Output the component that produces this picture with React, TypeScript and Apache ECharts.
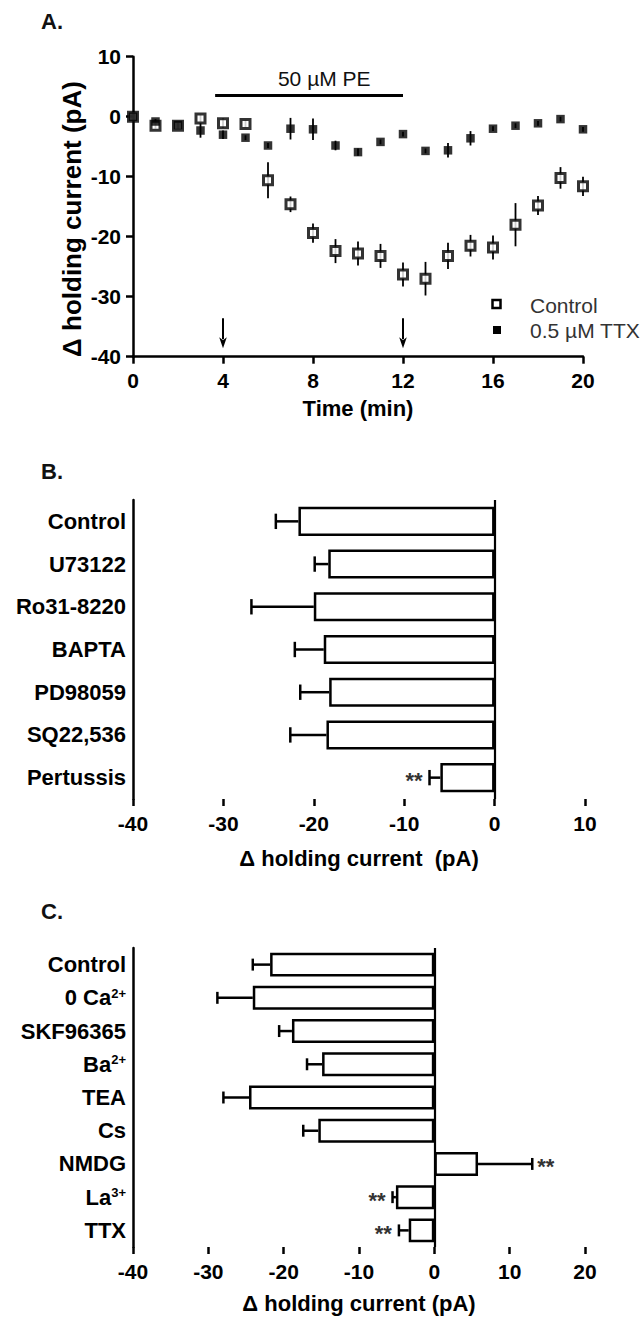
import React, { useEffect, useRef } from "react";
import * as echarts from "echarts";

// ---------- Panel A: time course ----------
const timeMin = [0, 1, 2, 3, 4, 5, 6, 7, 8, 9, 10, 11, 12, 13, 14, 15, 16, 17, 18, 19, 20];
const controlMean = [0, -1.5, -1.5, -0.3, -1.1, -1.2, -10.6, -14.6, -19.4, -22.4, -22.8, -23.2, -26.3, -27.0, -23.2, -21.5, -21.8, -18.0, -14.8, -10.2, -11.6];
const controlSem = [0, 0.5, 0.5, 0.6, 0.8, 0.6, 3.0, 1.3, 1.6, 2.0, 2.0, 2.0, 2.0, 2.8, 2.2, 1.8, 2.0, 3.6, 1.6, 1.8, 1.6];
const ttxMean = [0, -0.8, -1.4, -2.3, -3.0, -3.5, -4.8, -2.0, -2.1, -4.8, -5.9, -4.2, -2.9, -5.7, -5.6, -3.6, -2.0, -1.5, -1.1, -0.4, -2.1];
const ttxSem = [0, 0.4, 0.4, 1.2, 0.7, 0.4, 0.4, 1.8, 1.8, 0.8, 0.6, 0.4, 0.4, 0.4, 1.2, 1.2, 0.4, 0.4, 0.4, 0.4, 0.4];
const peBar = [3.65, 12]; // application window (min)
const arrowTimes = [4, 12];
const arrowFrom = -33.6;
const arrowTo = -38.6;

// ---------- Panel B ----------
const catsB = ["Control", "U73122", "Ro31-8220", "BAPTA", "PD98059", "SQ22,536", "Pertussis"];
const meansB = [-21.7, -18.4, -20.0, -18.9, -18.3, -18.6, -6.0];
const errsB = [2.5, 1.5, 6.9, 3.2, 3.2, 4.0, 1.2];
const sigB = ["", "", "", "", "", "", "**"];

// ---------- Panel C ----------
const catsC = ["Control", "0 Ca{sup|2+}", "SKF96365", "Ba{sup|2+}", "TEA", "Cs", "NMDG", "La{sup|3+}", "TTX"];
const meansC = [-21.8, -24.1, -18.9, -14.9, -24.6, -15.4, 5.8, -5.1, -3.4];
const errsC = [2.3, 4.7, 1.7, 2.0, 3.4, 2.0, 7.2, 0.45, 1.3];
const sigC = ["", "", "", "", "", "", "**", "**", "**"];

const FONT = "'Liberation Sans', Arial, Helvetica, sans-serif";
const BLACK = "#000";

const axisLineStyle = { onZero: false, lineStyle: { color: BLACK, width: 2.5 } };
const tickStyle = { show: true, length: 7, lineStyle: { color: BLACK, width: 2.5 } };
const tickLabel = { color: BLACK, fontSize: 21, fontWeight: "bold" as const, fontFamily: FONT };

function barErrRender(sig: string[]) {
  return (params: any, api: any) => {
    const i = api.value(2);
    const a = api.coord([api.value(0), i]);
    const b = api.coord([api.value(1), i]);
    const band = api.size([0, 1])[1];
    const h = band * 0.36;
    const children: any[] = [
      { type: "line", shape: { x1: a[0], y1: a[1], x2: b[0], y2: b[1] }, style: { stroke: BLACK, lineWidth: 2.5 } },
      { type: "line", shape: { x1: b[0], y1: b[1] - h / 2, x2: b[0], y2: b[1] + h / 2 }, style: { stroke: BLACK, lineWidth: 2.5 } },
    ];
    const s = sig[params.dataIndex];
    if (s) {
      const right = api.value(1) > api.value(0);
      children.push({
        type: "text",
        x: b[0] + (right ? 5 : -7),
        y: b[1] + 3,
        style: {
          text: s,
          fill: "#333",
          fontSize: 22,
          fontWeight: "bold",
          fontFamily: FONT,
          align: right ? "left" : "right",
          verticalAlign: "middle",
        },
      });
    }
    return { type: "group", children };
  };
}

function vErrRender(params: any, api: any) {
  const t = api.value(0);
  const p1 = api.coord([t, api.value(1)]);
  const p2 = api.coord([t, api.value(2)]);
  return {
    type: "line",
    shape: { x1: p1[0], y1: p1[1], x2: p2[0], y2: p2[1] },
    style: { stroke: BLACK, lineWidth: 1.8 },
  };
}

function arrowRender(params: any, api: any) {
  const t = api.value(0);
  const p1 = api.coord([t, api.value(1)]);
  const p2 = api.coord([t, api.value(2)]);
  const hw = 3.8;
  const hl = 11;
  return {
    type: "group",
    children: [
      { type: "line", shape: { x1: p1[0], y1: p1[1], x2: p2[0], y2: p2[1] - hl + 2 }, style: { stroke: BLACK, lineWidth: 2 } },
      {
        type: "polygon",
        shape: { points: [[p2[0], p2[1]], [p2[0] - hw, p2[1] - hl], [p2[0], p2[1] - hl + 3], [p2[0] + hw, p2[1] - hl]] },
        style: { fill: BLACK },
      },
    ],
  };
}

function buildOption() {
  const catAxisLabel = {
    color: BLACK,
    fontSize: 22,
    fontWeight: "bold" as const,
    fontFamily: FONT,
    margin: 7,
    rich: {
      sup: { fontSize: 13, fontWeight: "bold", fontFamily: FONT, color: BLACK, verticalAlign: "top", lineHeight: 12 },
    },
  };
  const nameStyle = { color: BLACK, fontSize: 22, fontWeight: "bold" as const, fontFamily: FONT };

  return {
    animation: false,
    backgroundColor: "#fff",
    textStyle: { fontFamily: FONT },
    grid: [
      { left: 133, top: 56.7, width: 450, height: 300 },
      { left: 133, top: 500, width: 452, height: 299 },
      { left: 133, top: 948, width: 452, height: 299 },
    ],
    xAxis: [
      {
        type: "value", gridIndex: 0, min: 0, max: 20, interval: 4,
        axisLine: axisLineStyle, axisTick: tickStyle, splitLine: { show: false },
        axisLabel: { ...tickLabel, margin: 13 },
        name: "Time (min)", nameLocation: "middle", nameGap: 41, nameTextStyle: nameStyle,
      },
      {
        type: "value", gridIndex: 1, min: -40, max: 10, interval: 10,
        axisLine: axisLineStyle, axisTick: tickStyle, splitLine: { show: false },
        axisLabel: { ...tickLabel, margin: 14 },
        name: "Δ holding current  (pA)", nameLocation: "middle", nameGap: 48, nameTextStyle: nameStyle,
      },
      {
        type: "value", gridIndex: 2, min: -40, max: 20, interval: 10,
        axisLine: axisLineStyle, axisTick: tickStyle, splitLine: { show: false },
        axisLabel: { ...tickLabel, margin: 14 },
        name: "Δ holding current (pA)", nameLocation: "middle", nameGap: 45, nameTextStyle: nameStyle,
      },
    ],
    yAxis: [
      {
        type: "value", gridIndex: 0, min: -40, max: 10, interval: 10,
        axisLine: axisLineStyle, axisTick: tickStyle, splitLine: { show: false },
        axisLabel: { ...tickLabel, margin: 12 },
      },
      {
        type: "category", gridIndex: 1, data: catsB, inverse: true,
        axisLine: axisLineStyle, axisTick: { show: false }, splitLine: { show: false },
        axisLabel: catAxisLabel,
      },
      {
        type: "category", gridIndex: 2, data: catsC, inverse: true,
        axisLine: axisLineStyle, axisTick: { show: false }, splitLine: { show: false },
        axisLabel: catAxisLabel,
      },
    ],
    graphic: [
      { type: "text", left: 41, top: 10, style: { text: "A.", fontSize: 22, fontWeight: "bold", fontFamily: FONT, fill: "#111" } },
      { type: "text", left: 41, top: 460, style: { text: "B.", fontSize: 22, fontWeight: "bold", fontFamily: FONT, fill: "#111" } },
      { type: "text", left: 41, top: 900, style: { text: "C.", fontSize: 22, fontWeight: "bold", fontFamily: FONT, fill: "#111" } },
      {
        type: "text", x: 72, y: 219, rotation: Math.PI / 2,
        style: { text: "Δ holding current (pA)", fontSize: 26, fontWeight: "bold", fontFamily: FONT, fill: BLACK, align: "center", verticalAlign: "middle" },
      },
      { type: "rect", shape: { x: 492.5, y: 300, width: 8, height: 8 }, style: { fill: "#fff", stroke: BLACK, lineWidth: 2.5 } },
      { type: "text", x: 530, y: 305, style: { text: "Control", fontSize: 21, fontFamily: FONT, fill: "#333", align: "left", verticalAlign: "middle" } },
      { type: "rect", shape: { x: 493, y: 326, width: 8, height: 8 }, style: { fill: BLACK } },
      { type: "text", x: 530, y: 330, style: { text: "0.5 µM TTX", fontSize: 21, fontFamily: FONT, fill: "#333", align: "left", verticalAlign: "middle" } },
    ],
    series: [
      // Panel A error bars
      {
        type: "custom", xAxisIndex: 0, yAxisIndex: 0, z: 2,
        encode: { x: 0, y: [1, 2] },
        data: timeMin.map((t, i) => [t, controlMean[i] - controlSem[i], controlMean[i] + controlSem[i]]),
        renderItem: vErrRender,
      },
      {
        type: "custom", xAxisIndex: 0, yAxisIndex: 0, z: 2,
        encode: { x: 0, y: [1, 2] },
        data: timeMin.map((t, i) => [t, ttxMean[i] - ttxSem[i], ttxMean[i] + ttxSem[i]]),
        renderItem: vErrRender,
      },
      // Arrows marking wash-in / wash-out
      {
        type: "custom", xAxisIndex: 0, yAxisIndex: 0, z: 2, silent: true,
        encode: { x: 0, y: [1, 2] },
        data: arrowTimes.map((t) => [t, arrowFrom, arrowTo]),
        renderItem: arrowRender,
      },
      {
        name: "Control", type: "scatter", xAxisIndex: 0, yAxisIndex: 0, z: 3,
        symbol: "rect", symbolSize: 9,
        itemStyle: { color: "#fff", borderColor: BLACK, borderWidth: 3 },
        data: timeMin.map((t, i) => [t, controlMean[i]]),
        markLine: {
          silent: true, symbol: ["none", "none"], label: { show: false },
          lineStyle: { color: BLACK, width: 3, type: "solid" },
          data: [[{ coord: [peBar[0], 3.5] }, { coord: [peBar[1], 3.5] }]],
        },
        markPoint: {
          silent: true, symbol: "rect", symbolSize: 1, itemStyle: { color: "rgba(0,0,0,0)" },
          label: { show: true, position: "inside", formatter: "50 µM PE", color: "#111", fontSize: 21, fontFamily: FONT },
          data: [{ coord: [8.5, 6.3] }],
        },
      },
      {
        name: "0.5 µM TTX", type: "scatter", xAxisIndex: 0, yAxisIndex: 0, z: 4,
        symbol: "rect", symbolSize: 8.5,
        itemStyle: { color: BLACK },
        data: timeMin.map((t, i) => [t, ttxMean[i]]),
      },
      // Panel B
      {
        type: "bar", xAxisIndex: 1, yAxisIndex: 1, z: 2,
        data: meansB, barCategoryGap: "32%",
        itemStyle: { color: "#fff", borderColor: BLACK, borderWidth: 2.5 },
        markLine: {
          silent: true, symbol: ["none", "none"], label: { show: false },
          lineStyle: { color: BLACK, width: 2.2, type: "solid" },
          data: [{ xAxis: 0 }],
        },
      },
      {
        type: "custom", xAxisIndex: 1, yAxisIndex: 1, z: 3,
        encode: { x: [0, 1], y: 2 },
        data: meansB.map((m, i) => [m, m < 0 ? m - errsB[i] : m + errsB[i], i]),
        renderItem: barErrRender(sigB),
      },
      // Panel C
      {
        type: "bar", xAxisIndex: 2, yAxisIndex: 2, z: 2,
        data: meansC, barCategoryGap: "28%",
        itemStyle: { color: "#fff", borderColor: BLACK, borderWidth: 2.5 },
        markLine: {
          silent: true, symbol: ["none", "none"], label: { show: false },
          lineStyle: { color: BLACK, width: 2.2, type: "solid" },
          data: [{ xAxis: 0 }],
        },
      },
      {
        type: "custom", xAxisIndex: 2, yAxisIndex: 2, z: 3,
        encode: { x: [0, 1], y: 2 },
        data: meansC.map((m, i) => [m, m < 0 ? m - errsC[i] : m + errsC[i], i]),
        renderItem: barErrRender(sigC),
      },
    ],
  };
}

export default function App() {
  const ref = useRef<HTMLDivElement>(null);
  useEffect(() => {
    if (!ref.current) return;
    const chart = echarts.init(ref.current, undefined, { renderer: "svg" });
    chart.setOption(buildOption() as any);
    return () => chart.dispose();
  }, []);
  return (
    <div
      ref={ref}
      style={{ position: "absolute", left: 0, top: 0, width: 642, height: 1319, background: "#fff" }}
    />
  );
}
